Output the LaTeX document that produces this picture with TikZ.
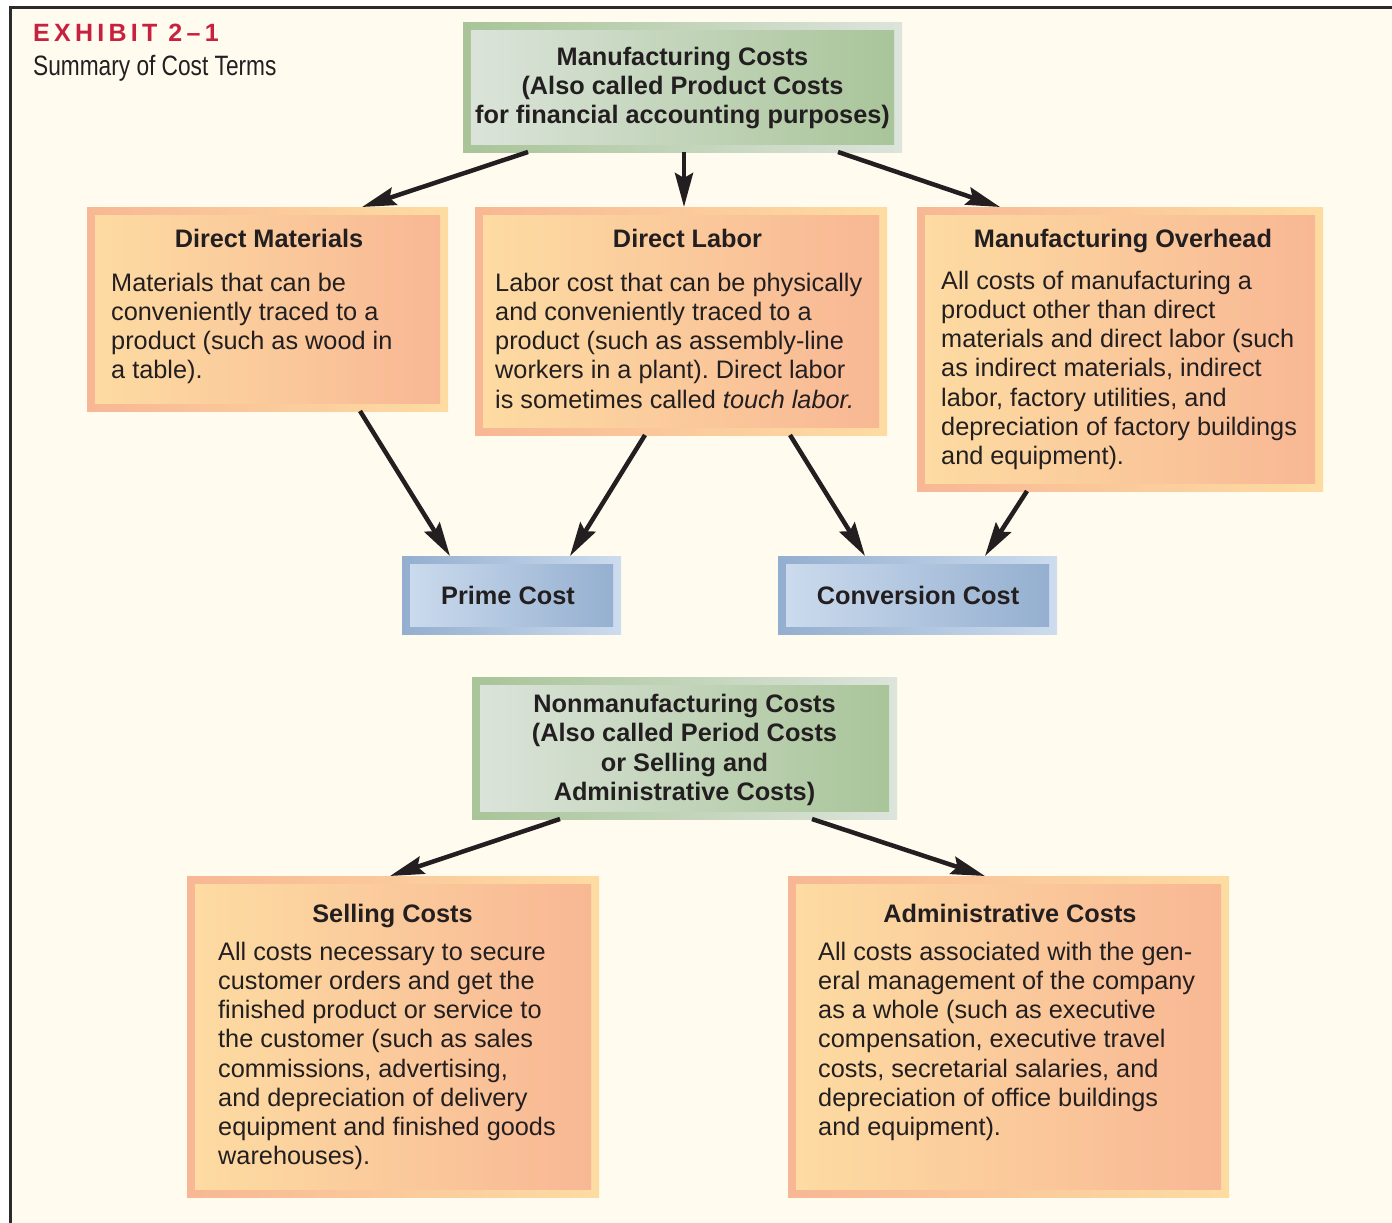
\documentclass[tikz,border=0pt]{standalone}
\usepackage{fontspec}
\setmainfont{Liberation Sans}
\newfontfamily\narrowfont[FakeStretch=0.81]{Liberation Sans}
\newfontfamily\exhibitfont[LetterSpace=17]{Liberation Sans}
\usetikzlibrary{arrows.meta}
\frenchspacing
\definecolor{cream}{HTML}{FFFBEE}
\definecolor{osal}{HTML}{F8B794}
\definecolor{olight}{HTML}{FDDCA2}
\definecolor{gdark}{HTML}{A8C498}
\definecolor{glight}{HTML}{DCE4DB}
\definecolor{bdark}{HTML}{93AECF}
\definecolor{blight}{HTML}{CDDCEE}
\definecolor{exred}{HTML}{C8203F}
\definecolor{ink}{HTML}{231F20}
\definecolor{framec}{HTML}{2B2B2B}
\tikzset{
  cbox/.style n args={2}{shade, left color=#1, right color=#2, inner sep=0pt, outer sep=0pt,
    path picture={\shade[left color=#2, right color=#1]
      ([shift={(8pt,8pt)}]path picture bounding box.south west) rectangle
      ([shift={(-8pt,-8pt)}]path picture bounding box.north east);}},
  obox/.style={cbox={osal}{olight}},
  gbox/.style={cbox={gdark}{glight}},
  bbox/.style={cbox={bdark}{blight}},
  txt/.style={text=ink, inner sep=0pt, font=\fontsize{25.3pt}{29.2pt}\selectfont\frenchspacing},
  head/.style={txt, anchor=base, font=\fontsize{25.3pt}{29.2pt}\selectfont\bfseries},
  body/.style={txt, anchor=north west, align=left},
  title/.style={txt, align=center, font=\fontsize{25.3pt}{29.2pt}\selectfont\bfseries},
  arr/.style={line width=4.5pt, draw=ink, -{Stealth[length=34pt,width=18pt,inset=5pt]}}
}
\newcommand{\fl}{\rule{0pt}{19pt}}
\begin{document}
\begin{tikzpicture}[x=1pt,y=-1pt]
\useasboundingbox (0,0) rectangle (1392,1223);
\fill[white] (0,0) rectangle (1392,1223);
\fill[cream] (10,8) rectangle (1392,1223);
\draw[line width=3pt, framec] (10,1223) -- (10,8) -- (1392,8);

\node[anchor=base west, inner sep=0pt, text=exred, font=\fontsize{25pt}{30pt}\exhibitfont\bfseries] (exh) at (33,42) {EXHIBIT 2–1};
\node[anchor=base west, inner sep=0pt, text=ink, font=\fontsize{28pt}{32pt}\narrowfont] (sum) at (33,75) {Summary of Cost Terms};

% boxes
\node[gbox, minimum width=439pt, minimum height=129pt] (mfg) at (682.5,87.5) {};
\node[obox, minimum width=361pt, minimum height=204pt] (dm) at (267.5,309) {};
\node[obox, minimum width=412pt, minimum height=228pt] (dl) at (681,321) {};
\node[obox, minimum width=406pt, minimum height=284pt] (mo) at (1120,349) {};
\node[bbox, minimum width=219pt, minimum height=78pt] (prime) at (511.5,595) {};
\node[bbox, minimum width=279pt, minimum height=78pt] (conv) at (917.5,595) {};
\node[gbox, minimum width=425pt, minimum height=142pt] (nonmfg) at (684.5,748) {};
\node[obox, minimum width=412pt, minimum height=321pt] (sell) at (393,1036.5) {};
\node[obox, minimum width=441pt, minimum height=321pt] (admin) at (1008.5,1036.5) {};

% texts
\node[title] (mfgt) at (682.5,88) {Manufacturing Costs\\(Also called Product Costs\\for financial accounting purposes)};
\node[title] (nonmfgt) at (684.5,750) {Nonmanufacturing Costs\\(Also called Period Costs\\or Selling and\\Administrative Costs)};
\node[title] (primet) at (508,595) {Prime Cost};
\node[title] (convt) at (918,595) {Conversion Cost};

\node[head] (dmh) at (269,247) {Direct Materials};
\node[body] (dmb) at (111,272) {\fl Materials that can be\\conveniently traced to a\\product (such as wood in\\a table).};

\node[head] (dlh) at (687.5,247) {Direct Labor};
\node[body] (dlb) at (495,272) {\fl Labor cost that can be physically\\and conveniently traced to a\\product (such as assembly-line\\workers in a plant). Direct labor\\is sometimes called \textit{touch labor.}};

\node[head] (moh) at (1123,247) {Manufacturing Overhead};
\node[body] (mob) at (941,270) {\fl All costs of manufacturing a\\product other than direct\\materials and direct labor (such\\as indirect materials, indirect\\labor, factory utilities, and\\depreciation of factory buildings\\and equipment).};

\node[head] (sellh) at (392.5,922) {Selling Costs};
\node[body] (sellb) at (218,941) {\fl All costs necessary to secure\\customer orders and get the\\finished product or service to\\the customer (such as sales\\commissions, advertising,\\and depreciation of delivery\\equipment and finished goods\\warehouses).};

\node[head] (adminh) at (1010,922) {Administrative Costs};
\node[body] (adminb) at (818,941) {\fl All costs associated with the gen-\\eral management of the company\\as a whole (such as executive\\compensation, executive travel\\costs, secretarial salaries, and\\depreciation of office buildings\\and equipment).};

% arrows
\draw[arr] ([xshift=-154.5pt]mfg.south) -- ([xshift=94.5pt]dm.north);
\draw[arr] ([xshift=1.5pt]mfg.south) -- ([xshift=3pt]dl.north);
\draw[arr] ([xshift=155.5pt]mfg.south) -- ([xshift=-120pt]mo.north);
\draw[arr] ([xshift=92.5pt]dm.south) -- ([xshift=-61.5pt]prime.north);
\draw[arr] ([xshift=-36pt]dl.south) -- ([xshift=58.5pt]prime.north);
\draw[arr] ([xshift=109pt]dl.south) -- ([xshift=-52.5pt]conv.north);
\draw[arr] ([xshift=-93pt]mo.south) -- ([xshift=67.5pt]conv.north);
\draw[arr] ([xshift=-124.5pt]nonmfg.south) -- ([xshift=-3pt]sell.north);
\draw[arr] ([xshift=127.5pt]nonmfg.south) -- ([xshift=-23.5pt]admin.north);
\end{tikzpicture}
\end{document}
